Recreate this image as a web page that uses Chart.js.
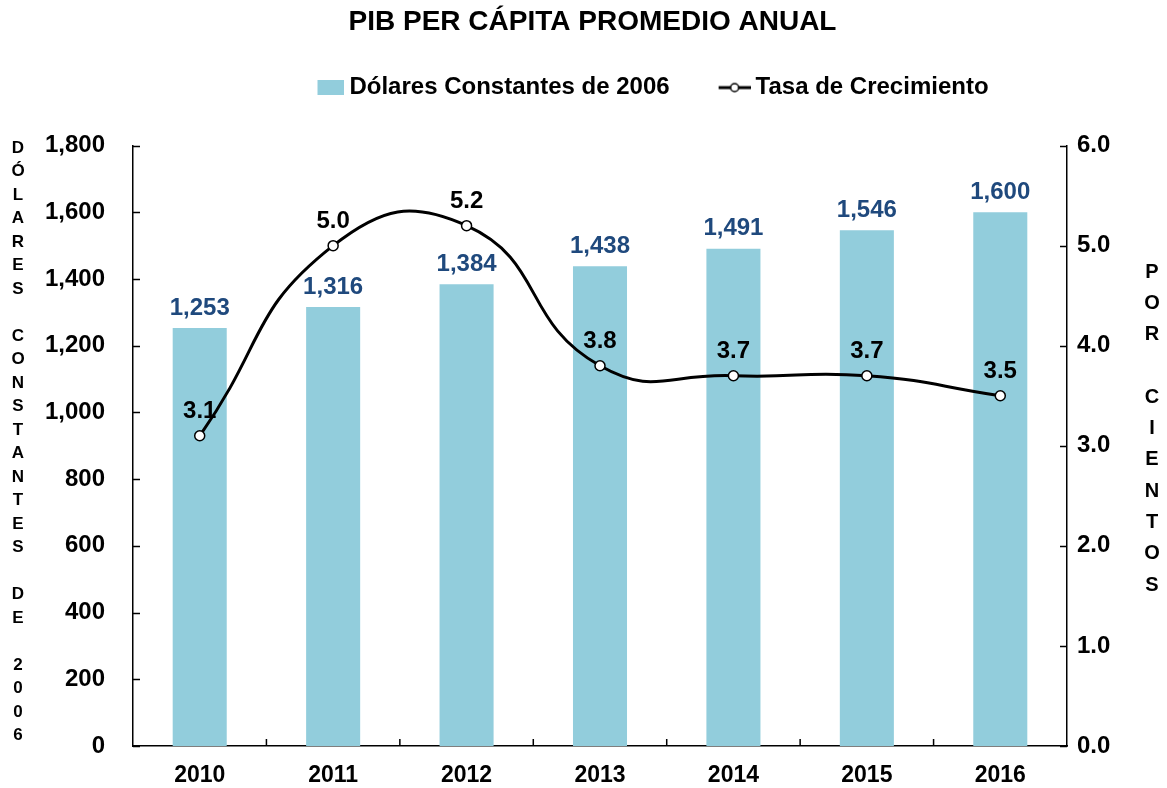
<!DOCTYPE html>
<html>
<head>
  <title>PIB per cápita promedio anual</title>
  <script src="https://cdn.jsdelivr.net/npm/chart.js"></script>
  <style>
    html, body { margin: 0; padding: 0; background: #fff; }
    #wrap { width: 1167px; height: 788px; }
  </style>
</head>
<body>
  <div id="wrap"><canvas id="pibChart"></canvas></div>

  <script>
    // data
    const years = ['2010', '2011', '2012', '2013', '2014', '2015', '2016'];
    const dolares = [1253, 1316, 1384, 1438, 1491, 1546, 1600];
    const tasa = [3.1, 5.0, 5.2, 3.8, 3.7, 3.7, 3.5];
    const leftTicks = [0, 200, 400, 600, 800, 1000, 1200, 1400, 1600, 1800];
    const rightTicks = [0, 1, 2, 3, 4, 5, 6];
    const leftTitle = 'DÓLARES CONSTANTES DE 2006';
    const rightTitle = 'POR CIENTOS';

    const barColor = '#92CDDC';
    const labelBlue = '#1F497D';
    const FONT = '"Liberation Sans", Arial, sans-serif';

    // legend icons (transparent on the left so the mark sits close to its text)
    function makeBarIcon() {
      const c = document.createElement('canvas');
      c.width = 41; c.height = 15;
      const g = c.getContext('2d');
      g.fillStyle = barColor;
      g.fillRect(14, 0, 27, 15);
      return c;
    }
    function makeLineIcon() {
      const c = document.createElement('canvas');
      c.width = 41; c.height = 12;
      const g = c.getContext('2d');
      g.strokeStyle = '#000';
      g.lineWidth = 3;
      g.beginPath(); g.moveTo(9, 6); g.lineTo(41, 6); g.stroke();
      g.fillStyle = '#fff';
      g.lineWidth = 1.5;
      g.beginPath(); g.arc(25, 6, 4, 0, Math.PI * 2); g.fill(); g.stroke();
      return c;
    }
    const barIcon = makeBarIcon();
    const lineIcon = makeLineIcon();

    // push the plot down below the legend and nudge title/legend to the right
    const placeHeader = {
      id: 'placeHeader',
      beforeInit(chart) {
        const fit = chart.legend.fit;
        chart.legend.fit = function () {
          fit.call(this);
          this.height += 36;
        };
      },
      afterLayout(chart) {
        chart.legend.left += 66; chart.legend.right += 66;
        chart.titleBlock.left += 9; chart.titleBlock.right += 9;
      }
    };

    // inward tick marks, stacked axis titles and value labels
    const extras = {
      id: 'extras',
      afterDraw(chart) {
        const ctx = chart.ctx;
        const area = chart.chartArea;
        const x = chart.scales.x, y = chart.scales.y, y1 = chart.scales.y1;
        ctx.save();
        ctx.strokeStyle = '#000';
        ctx.lineWidth = 1.5;
        ctx.beginPath();
        leftTicks.forEach(v => {
          const py = Math.round(y.getPixelForValue(v)) + 0.5;
          ctx.moveTo(area.left, py); ctx.lineTo(area.left + 7, py);
        });
        rightTicks.forEach(v => {
          const py = Math.round(y1.getPixelForValue(v)) + 0.5;
          ctx.moveTo(area.right - 7, py); ctx.lineTo(area.right, py);
        });
        for (let i = 0; i < years.length - 1; i++) {
          const px = (x.getPixelForValue(i) + x.getPixelForValue(i + 1)) / 2;
          ctx.moveTo(px, area.bottom); ctx.lineTo(px, area.bottom - 7);
        }
        ctx.stroke();

        // stacked letters for the axis titles
        ctx.fillStyle = '#000';
        ctx.textAlign = 'center';
        ctx.textBaseline = 'middle';
        ctx.font = 'bold 17px ' + FONT;
        leftTitle.split('').forEach((ch, i) => {
          ctx.fillText(ch, 18, 148 + i * 23.5);
        });
        ctx.font = 'bold 20px ' + FONT;
        rightTitle.split('').forEach((ch, i) => {
          ctx.fillText(ch, 1152, 272 + i * 31.3);
        });

        // value labels
        ctx.font = 'bold 24px ' + FONT;
        ctx.fillStyle = labelBlue;
        chart.getDatasetMeta(0).data.forEach((el, i) => {
          ctx.fillText(dolares[i].toLocaleString('en-US'), el.x, el.y - 20);
        });
        ctx.fillStyle = '#000';
        chart.getDatasetMeta(1).data.forEach((el, i) => {
          ctx.fillText(tasa[i].toFixed(1), el.x, el.y - 24);
        });
        ctx.restore();
      }
    };

    const ctx = document.getElementById('pibChart').getContext('2d');
    new Chart(ctx, {
      type: 'bar',
      data: {
        labels: years,
        datasets: [{
          type: 'bar',
          label: 'Dólares Constantes de 2006',
          data: dolares,
          backgroundColor: barColor,
          yAxisID: 'y',
          categoryPercentage: 1,
          barPercentage: 0.405,
          order: 1
        }, {
          type: 'line',
          label: 'Tasa de Crecimiento',
          data: tasa,
          borderColor: '#000',
          borderWidth: 3,
          tension: 0.5,
          pointRadius: 5,
          pointBackgroundColor: '#fff',
          pointBorderColor: '#000',
          pointBorderWidth: 1.5,
          yAxisID: 'y1',
          order: 0
        }]
      },
      options: {
        responsive: true,
        maintainAspectRatio: false,
        animation: false,
        layout: { padding: { top: 4, left: 0, right: 0, bottom: 0 } },
        plugins: {
          tooltip: { enabled: false },
          title: {
            display: true,
            text: 'PIB PER CÁPITA PROMEDIO ANUAL',
            color: '#000',
            font: { family: FONT, size: 28, weight: 'bold' },
            padding: { top: 1, bottom: -10 }
          },
          legend: {
            display: true,
            labels: {
              color: '#000',
              font: { family: FONT, size: 24, weight: 'bold' },
              usePointStyle: true,
              pointStyleWidth: 27,
              padding: 47,
              generateLabels: () => [
                { text: 'Dólares Constantes de 2006', pointStyle: barIcon, datasetIndex: 0, fontColor: '#000', hidden: false, lineWidth: 0 },
                { text: 'Tasa de Crecimiento', pointStyle: lineIcon, datasetIndex: 1, fontColor: '#000', hidden: false, lineWidth: 0 }
              ]
            }
          }
        },
        scales: {
          x: {
            offset: true,
            grid: { display: false },
            border: { display: true, color: '#000', width: 1.5 },
            ticks: { color: '#000', font: { family: FONT, size: 23, weight: 'bold' }, padding: 8 },
            afterFit: s => { s.height = 42; }
          },
          y: {
            position: 'left',
            min: 0,
            max: 1800,
            grid: { display: false },
            border: { display: true, color: '#000', width: 1.5 },
            afterBuildTicks: s => { s.ticks = leftTicks.map(v => ({ value: v })); },
            ticks: {
              color: '#000',
              font: { family: FONT, size: 24, weight: 'bold' },
              padding: 20,
              callback: v => v.toLocaleString('en-US')
            },
            afterFit: s => { s.width = 133; }
          },
          y1: {
            position: 'right',
            min: 0,
            max: 6,
            grid: { display: false },
            border: { display: true, color: '#000', width: 1.5 },
            afterBuildTicks: s => { s.ticks = rightTicks.map(v => ({ value: v })); },
            ticks: {
              color: '#000',
              font: { family: FONT, size: 24, weight: 'bold' },
              padding: 2,
              callback: v => v.toFixed(1)
            },
            afterFit: s => { s.width = 100; }
          }
        }
      },
      plugins: [placeHeader, extras]
    });
  </script>
</body>
</html>
